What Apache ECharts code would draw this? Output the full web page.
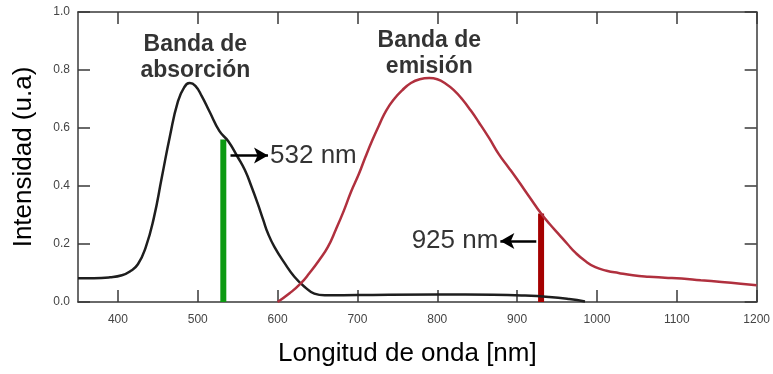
<!DOCTYPE html>
<html>
<head>
<meta charset="utf-8">
<script src="https://cdn.jsdelivr.net/npm/echarts@6/dist/echarts.min.js"></script>
<style>html,body{margin:0;padding:0;background:#fff}#c{width:773px;height:374px}</style>
</head>
<body>
<div id="c"></div>
<script>
// Data
const xTicks = [400, 500, 600, 700, 800, 900, 1000, 1100, 1200];
const yTicks = [0, 0.2, 0.4, 0.6, 0.8, 1.0];
const absorption = [[350,0.082],[370,0.082],[390,0.085],[405,0.092],[415,0.105],[425,0.13],[435,0.19],[445,0.29],[455,0.43],[465,0.57],[475,0.69],[483,0.74],[490,0.755],[497,0.745],[505,0.71],[515,0.655],[527,0.59],[538,0.555],[550,0.50],[559,0.455],[567,0.40],[575,0.34],[582,0.283],[588,0.236],[596,0.19],[609,0.133],[621,0.087],[634,0.052],[646,0.029],[659,0.023],[700,0.024],[800,0.026],[870,0.025],[910,0.022],[940,0.017],[965,0.01],[985,0.002]];
const emission = [[600,0],[615,0.03],[629,0.064],[640,0.10],[652,0.144],[663,0.19],[673,0.25],[683,0.315],[692,0.38],[702,0.443],[710,0.50],[719,0.56],[728,0.615],[736,0.66],[746,0.70],[756,0.73],[767,0.755],[778,0.768],[790,0.772],[800,0.768],[811,0.752],[821,0.73],[831,0.70],[842,0.66],[852,0.62],[865,0.565],[877,0.51],[889,0.465],[900,0.423],[915,0.364],[930,0.305],[941,0.268],[952,0.234],[963,0.200],[973,0.170],[985,0.142],[998,0.12],[1012,0.108],[1027,0.10],[1045,0.092],[1065,0.087],[1085,0.084],[1106,0.081],[1130,0.075],[1156,0.069],[1180,0.063],[1200,0.058]];
const excitation = [[532,0],[532,0.56]];
const emissionLine = [[930,0],[930,0.305]];
const arrow532 = [[541,0.505],[588,0.505]];
const arrow925 = [[924,0.21],[879,0.21]];
const labels = ['532 nm', '925 nm'];
const bandTitles = ['Banda de\nabsorción', 'Banda de\nemisión'];
const bandTitlePos = [[497, 0.842], [790, 0.855]];

const F = 'Liberation Sans, Arial, sans-serif';
const axisCol = '#3a3a3a';
const chart = echarts.init(document.getElementById('c'), null, {renderer:'canvas'});
const baseX = {type:'value', min:350, max:1200,
  axisLine:{show:true, onZero:false, lineStyle:{color:axisCol, width:1.5}},
  splitLine:{show:false}};
const baseY = {type:'value', min:0, max:1, interval:0.2,
  axisLine:{show:true, onZero:false, lineStyle:{color:axisCol, width:1.5}},
  splitLine:{show:false}};
chart.setOption({
  animation:false,
  grid:{left:78, right:15, top:12, bottom:72},
  xAxis:[
    Object.assign({}, baseX, {position:'bottom',
      axisTick:{show:true, inside:true, length:12, customValues:xTicks, lineStyle:{color:axisCol, width:1.5}},
      axisLabel:{show:true, customValues:xTicks, color:'#444', fontSize:12, fontFamily:F, margin:12,
        formatter:v=>String(v)},
      name:'Longitud de onda [nm]', nameLocation:'middle', nameGap:39,
      nameTextStyle:{fontSize:26, fontFamily:F, color:'#000', padding:[0,20,0,0]}}),
    Object.assign({}, baseX, {position:'top',
      axisTick:{show:true, inside:true, length:12, customValues:xTicks, lineStyle:{color:axisCol, width:1.5}},
      axisLabel:{show:false}})
  ],
  yAxis:[
    Object.assign({}, baseY, {position:'left',
      axisTick:{show:true, inside:true, length:12, lineStyle:{color:axisCol, width:1.5}},
      axisLabel:{show:true, color:'#444', fontSize:12, fontFamily:F, margin:8,
        formatter:v=>v.toFixed(1)},
      name:'Intensidad (u.a)', nameLocation:'middle', nameGap:41, nameRotate:90,
      nameTextStyle:{fontSize:26, fontFamily:F, color:'#000'}}),
    Object.assign({}, baseY, {position:'right',
      axisTick:{show:true, inside:true, length:12, lineStyle:{color:axisCol, width:1.5}},
      axisLabel:{show:false}})
  ],
  series:[
    {type:'line', data:excitation, showSymbol:false, symbol:'none', z:1,
      lineStyle:{color:'#0c9a12', width:6, cap:'butt'}},
    {type:'line', data:emissionLine, showSymbol:false, symbol:'none', z:1,
      lineStyle:{color:'#a50000', width:6, cap:'butt'}},
    {type:'line', data:absorption, smooth:0.5, showSymbol:false, symbol:'none', z:3,
      lineStyle:{color:'#1e1e1e', width:2.5}},
    {type:'line', data:emission, smooth:0.5, showSymbol:false, symbol:'none', z:3,
      lineStyle:{color:'#b0303e', width:2.5}},
    {type:'line', data:[], z:4,
      markLine:{silent:true, symbol:['none','arrow'], symbolSize:[12,14], animation:false,
        lineStyle:{color:'#000', width:2.5, type:'solid'}, label:{show:false},
        data:[
          [{coord:arrow532[0]},{coord:arrow532[1]}],
          [{coord:arrow925[0]},{coord:arrow925[1]}]
        ]}},
    {type:'scatter', symbolSize:0, z:5,
      data:[
        {value:arrow532[1], label:{show:true, position:'right', distance:2, color:'#000', formatter:labels[0]}},
        {value:arrow925[1], label:{show:true, position:'left', distance:2, color:'#000', formatter:labels[1]}}
      ],
      label:{color:'#000', fontSize:26, fontFamily:F}},
    {type:'scatter', symbolSize:0, z:5,
      data:bandTitlePos.map((p,i)=>({value:p, label:{show:true, position:'inside', color:'#000', formatter:bandTitles[i]}})),
      label:{color:'#000', fontSize:23, fontWeight:'bold', fontFamily:F, lineHeight:26, align:'center'}}
  ]
});
</script>
</body>
</html>
